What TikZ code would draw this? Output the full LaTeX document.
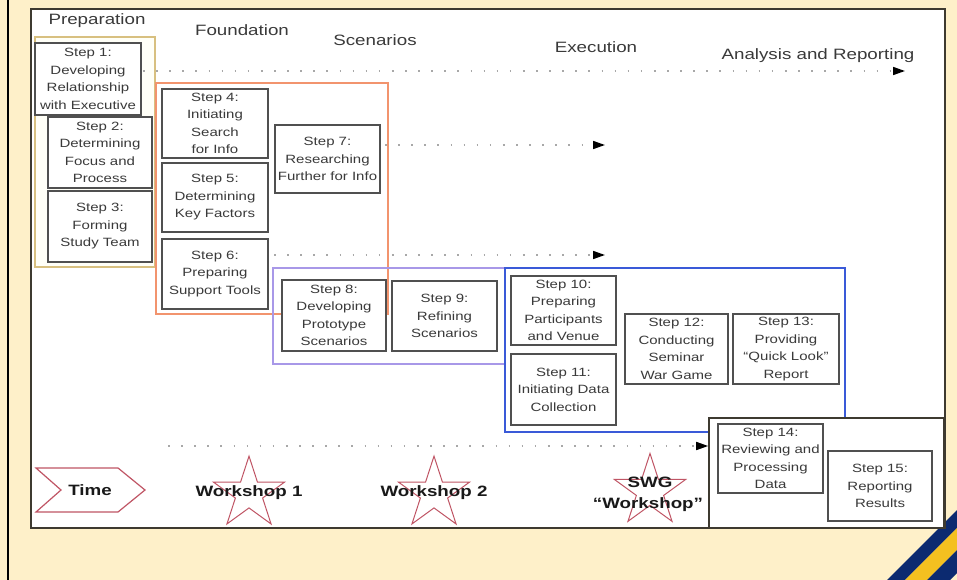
\documentclass[tikz,border=0pt]{standalone}
\usepackage{fontspec}
\setmainfont{Liberation Sans}
\newfontfamily\stepfont[FakeStretch=1.25]{Liberation Sans}
\usetikzlibrary{shapes.geometric,arrows.meta}
\definecolor{cream}{HTML}{FEF0C9}
\definecolor{panelline}{HTML}{3E3A30}
\definecolor{boxgray}{HTML}{505050}
\definecolor{txt}{HTML}{3A3A3A}
\definecolor{prepc}{HTML}{D8C080}
\definecolor{foundc}{HTML}{F2946E}
\definecolor{scenc}{HTML}{A898E8}
\definecolor{execc}{HTML}{3A5AD8}
\definecolor{starred}{HTML}{C05565}
\definecolor{dotc}{HTML}{A8A8A8}
\definecolor{navy}{HTML}{0C2A70}
\definecolor{gold}{HTML}{F4C020}
\begin{document}
\begin{tikzpicture}[x=1pt,y=-1pt,
  stepbox/.style={draw=boxgray, line width=1.1pt, fill=white, inner sep=0pt,
    align=center, text=txt, font=\stepfont\fontsize{12}{17.5}\selectfont},
  sz/.style 2 args={minimum width=#1pt, minimum height=#2pt},
  grp/.style={line width=1.4pt, inner sep=0pt},
  phase/.style={text=txt, font=\stepfont\fontsize{15}{18}\selectfont, inner sep=0pt},
  wsfont/.style={text=black!90, font=\stepfont\fontsize{15}{18}\selectfont\bfseries, inner sep=0pt, align=center},
  wstar/.style={star, star points=5, star point ratio=2.618, minimum size=75pt,
    inner sep=0pt, draw=starred, line width=1pt},
  dotarrow/.style={draw=dotc, line width=1.6pt, dash pattern=on 1.6pt off 11.5pt,
    -{Triangle[length=12pt,width=8pt,black]}}
]
\useasboundingbox (0,0) rectangle (957,580);
\fill[cream] (0,0) rectangle (957,580);
\draw[line width=2pt, black] (8,0) -- (8,580);
% stripes
\fill[navy] (887,580) -- (957,510) -- (957,528) -- (905,580) -- cycle;
\fill[gold] (905,580) -- (957,528) -- (957,550) -- (927,580) -- cycle;
\fill[navy] (927,580) -- (957,550) -- (957,573) -- (950,580) -- cycle;
% panel
\node[draw=panelline, fill=white, line width=2.4pt, inner sep=0pt, sz={914}{519}] (panel) at (488,268.5) {};

% phase labels
\node[phase] (lprep) at (97,21) {Preparation};
\node[phase] (lfound) at (242,30) {Foundation};
\node[phase] (lscen) at (375,40) {Scenarios};
\node[phase] (lexec) at (596,47) {Execution};
\node[phase] (lanal) at (818,56) {Analysis and Reporting};

% group boxes
\node[grp, draw=prepc, fill=yellow!3, sz={120}{230}] (prep) at (95,152) {};
\node[grp, draw=foundc, sz={232}{231}] (found) at (272,198.5) {};
\node[grp, draw=scenc, sz={232}{96}] (scen) at (389,316) {};
\node[grp, draw=execc, line width=2pt, sz={340}{164}] (exec) at (675,350) {};

% steps
\node[stepbox, sz={106}{72}] (s1) at (88,79) {Step 1:\\Developing\\Relationship\\with Executive};
\node[stepbox, sz={104}{71}] (s2) at (100,152.5) {Step 2:\\Determining\\Focus and\\Process};
\node[stepbox, sz={104}{71}] (s3) at (100,226.5) {Step 3:\\Forming\\Study Team};
\node[stepbox, sz={106}{69}] (s4) at (215,123.5) {Step 4:\\Initiating\\Search\\for Info};
\node[stepbox, sz={106}{69}] (s5) at (215,197.5) {Step 5:\\Determining\\Key Factors};
\node[stepbox, sz={106}{70}] (s6) at (215,274) {Step 6:\\Preparing\\Support Tools};
\node[stepbox, sz={105}{68}] (s7) at (327.5,159) {Step 7:\\Researching\\Further for Info};
\node[stepbox, sz={104}{71}] (s8) at (334,315.5) {Step 8:\\Developing\\Prototype\\Scenarios};
\node[stepbox, sz={105}{70}] (s9) at (444.5,316) {Step 9:\\Refining\\Scenarios};
\node[stepbox, sz={105}{69}] (s10) at (563.5,310.5) {Step 10:\\Preparing\\Participants\\and Venue};
\node[stepbox, sz={105}{71}] (s11) at (563.5,389.5) {Step 11:\\Initiating Data\\Collection};
\node[stepbox, sz={103}{70}] (s12) at (676.5,349) {Step 12:\\Conducting\\Seminar\\War Game};
\node[stepbox, sz={106}{70}] (s13) at (786,349) {Step 13:\\Providing\\“Quick Look”\\Report};

% analysis box
\node[draw=panelline, fill=white, line width=1.6pt, inner sep=0pt, sz={235}{110}] (anal) at (826.5,473) {};
\node[stepbox, sz={105}{69}] (s14) at (770.5,458.5) {Step 14:\\Reviewing and\\Processing\\Data};
\node[stepbox, sz={104}{70}] (s15) at (880,486) {Step 15:\\Reporting\\Results};

% dotted arrows
\coordinate (a1s) at (143,71);
\coordinate (a1e) at (905,71);
\coordinate (a2s) at (385,145);
\coordinate (a2e) at (605,145);
\coordinate (a3s) at (274,255);
\coordinate (a3e) at (605,255);
\coordinate (a4s) at (168,446);
\draw[dotarrow] (a1s) -- (a1e);
\draw[dotarrow] (a2s) -- (a2e);
\draw[dotarrow] (a3s) -- (a3e);
\draw[dotarrow] (a4s) -- (a4s -| anal.west);

% time arrow
\draw[draw=starred, line width=1.2pt, fill=white, line join=miter]
  (36,468) -- (118,468) -- (145,490) -- (118,512) -- (36,512) -- (61,490) -- cycle;
\node[wsfont] (time) at (90,490) {Time};

% stars
\node[wstar] (st1) at (249,493.6) {};
\node[wstar] (st2) at (434,493.6) {};
\node[wstar] (st3) at (650,491) {};
\node[wsfont] (w1) at (249,493) {Workshop 1};
\node[wsfont] (w2) at (434,493) {Workshop 2};
\node[wsfont] (w3a) at (650,482) {SWG};
\node[wsfont] (w3b) at (648,505) {“Workshop”};
\end{tikzpicture}
\end{document}
